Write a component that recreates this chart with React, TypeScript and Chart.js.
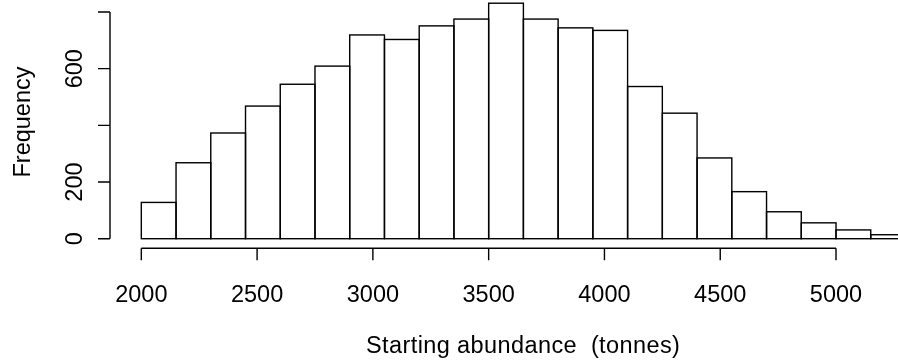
import React, { useEffect, useRef } from "react";
import { Chart, registerables } from "chart.js";

Chart.register(...registerables);

// Histogram bins (left edges, tonnes) and counts
const binStarts = [2000, 2150, 2300, 2450, 2600, 2750, 2900, 3050, 3200, 3350, 3500, 3650, 3800, 3950, 4100, 4250, 4400, 4550, 4700, 4850, 5000, 5150];
const binWidth = 150;
const counts = [128, 268, 373, 468, 545, 609, 719, 703, 751, 775, 831, 775, 744, 735, 537, 443, 285, 166, 95, 56, 31, 14];

const xTicks = [2000, 2500, 3000, 3500, 4000, 4500, 5000];
const xTickLabels = ["2000", "2500", "3000", "3500", "4000", "4500", "5000"];
const yTicks = [0, 200, 400, 600, 800];
const yTickLabels = ["0", "200", "", "600", ""];
const xTitle = "Starting abundance  (tonnes)";
const yTitle = "Frequency";

const FONT = '23.5px "Liberation Sans", Arial, Helvetica, sans-serif';

const rStylePlugin = {
  id: "rStyle",
  afterDatasetsDraw(chart: any) {
    const ctx = chart.ctx as CanvasRenderingContext2D;
    const meta = chart.getDatasetMeta(0);
    const xs = chart.scales.x;
    const ys = chart.scales.y;
    const area = chart.chartArea;
    ctx.save();
    ctx.strokeStyle = "#000";
    ctx.lineWidth = 1.4;
    // bar outlines (R style, strokes centred on edges)
    meta.data.forEach((bar: any) => {
      const p = bar.getProps(["x", "y", "base", "width"], true);
      ctx.strokeRect(p.x - p.width / 2, p.y, p.width, p.base - p.y);
    });

    // x axis
    const axY = area.bottom + 0.3;
    const x0 = xs.getPixelForValue(xTicks[0]);
    const x1 = xs.getPixelForValue(xTicks[xTicks.length - 1]);
    ctx.beginPath();
    ctx.moveTo(x0, axY);
    ctx.lineTo(x1, axY);
    xTicks.forEach((t) => {
      const px = xs.getPixelForValue(t);
      ctx.moveTo(px, axY);
      ctx.lineTo(px, axY + 12);
    });
    // y axis
    const axX = area.left;
    const y0 = ys.getPixelForValue(yTicks[0]);
    const y1 = ys.getPixelForValue(yTicks[yTicks.length - 1]);
    ctx.moveTo(axX, y0);
    ctx.lineTo(axX, y1);
    yTicks.forEach((t) => {
      const py = ys.getPixelForValue(t);
      ctx.moveTo(axX, py);
      ctx.lineTo(axX - 12, py);
    });
    ctx.stroke();

    ctx.fillStyle = "#000";
    ctx.font = FONT;
    ctx.textAlign = "center";
    ctx.textBaseline = "alphabetic";
    xTicks.forEach((t, i) => {
      ctx.fillText(xTickLabels[i], xs.getPixelForValue(t), 302);
    });
    yTicks.forEach((t, i) => {
      if (!yTickLabels[i]) return;
      ctx.save();
      ctx.translate(82, ys.getPixelForValue(t));
      ctx.rotate(-Math.PI / 2);
      ctx.fillText(yTickLabels[i], 0, 0);
      ctx.restore();
    });
    // titles
    ctx.save();
    ctx.textAlign = "left";
    (ctx as any).letterSpacing = "0.4px";
    ctx.fillText(xTitle, 366, 353);
    ctx.restore();
    ctx.save();
    ctx.translate(30, 122);
    ctx.rotate(-Math.PI / 2);
    ctx.fillText(yTitle, 0, 0);
    ctx.restore();
    ctx.restore();
  },
};

export default function App() {
  const ref = useRef<HTMLCanvasElement | null>(null);
  useEffect(() => {
    if (!ref.current) return;
    const chart = new Chart(ref.current, {
      type: "bar",
      data: {
        datasets: [
          {
            data: binStarts.map((s, i) => ({ x: s + binWidth / 2, y: counts[i] })),
            backgroundColor: "#ffffff",
            borderWidth: 0,
            barPercentage: 1,
            categoryPercentage: 1,
          } as any,
        ],
      },
      options: {
        responsive: false,
        devicePixelRatio: 1,
        animation: false,
        layout: { padding: { left: 110, right: 0, top: 0, bottom: 116 } },
        plugins: { legend: { display: false }, tooltip: { enabled: false }, title: { display: false } },
        scales: {
          x: { type: "linear", display: false, offset: false, min: 1864.8, max: 5267.7 },
          y: { type: "linear", display: false, min: -32.8, max: 842.3 },
        },
      },
      plugins: [rStylePlugin],
    });
    return () => chart.destroy();
  }, []);
  return (
    <div style={{ position: "absolute", left: 0, top: 0, width: 898, height: 364, background: "#fff" }}>
      <canvas ref={ref} width={898} height={364} style={{ display: "block" }} />
    </div>
  );
}
